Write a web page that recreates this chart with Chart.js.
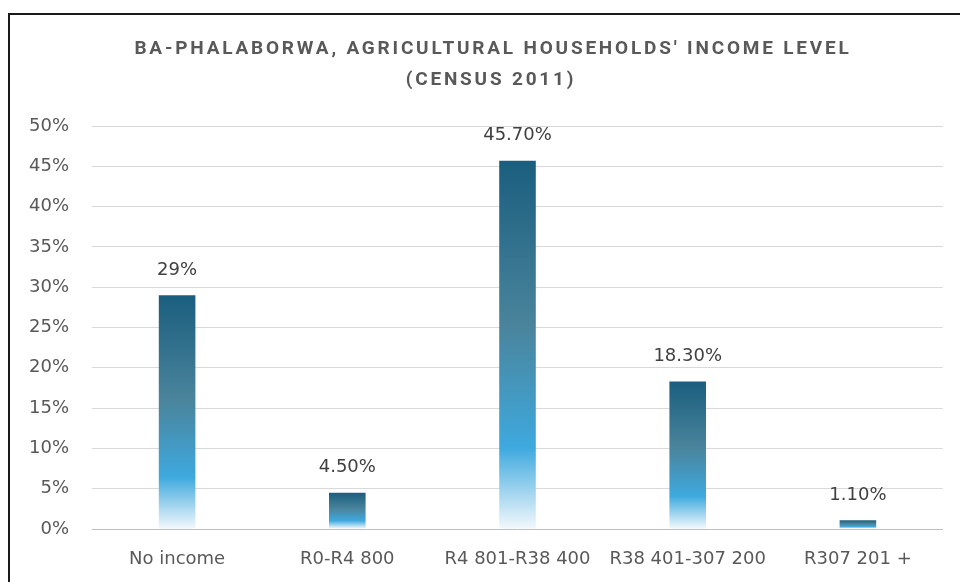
<!DOCTYPE html>
<html>
<head>
<meta charset="utf-8">
<script src="https://cdn.jsdelivr.net/npm/chart.js@4.4.1/dist/chart.umd.min.js"></script>
<style>
  html, body { margin: 0; padding: 0; background: #fff; overflow: hidden; }
  #frame { position: absolute; left: 8px; top: 13px; width: 980px; height: 620px; border: 2px solid #1a1a1a; }
  #incomeChart { position: absolute; left: 0; top: 0; }
</style>
</head>
<body>
<div id="frame"></div>
<canvas id="incomeChart" width="960" height="582"></canvas>
<script>
const categories = ['No income', 'R0-R4 800', 'R4 801-R38 400', 'R38 401-307 200', 'R307 201 +'];
const shares = [29, 4.5, 45.7, 18.3, 1.1];
const shareLabels = ['29%', '4.50%', '45.70%', '18.30%', '1.10%'];
const yTicks = [0, 5, 10, 15, 20, 25, 30, 35, 40, 45, 50];
const titleLines = ["BA-PHALABORWA, AGRICULTURAL HOUSEHOLDS' INCOME LEVEL", '(CENSUS 2011)'];

const textGrey = '#595959';
const bodyFont = 'DejaVu Sans';

// gradient runs over each bar, top to bottom
function barGradient(ctx, top, bottom) {
  const g = ctx.createLinearGradient(0, top, 0, bottom);
  g.addColorStop(0, '#1a5e7e');
  g.addColorStop(0.45, '#4a849c');
  g.addColorStop(0.78, '#3ea9de');
  g.addColorStop(1, '#f2f8fc');
  return g;
}

const gradientBars = {
  id: 'gradientBars',
  beforeDatasetsDraw(chart) {
    const meta = chart.getDatasetMeta(0);
    meta.data.forEach(bar => {
      if (isFinite(bar.y) && isFinite(bar.base) && bar.base > bar.y) {
        bar.options.backgroundColor = barGradient(chart.ctx, bar.y, bar.base);
      }
    });
  }
};

const titlePlugin = {
  id: 'spacedTitle',
  afterDraw(chart) {
    const ctx = chart.ctx;
    ctx.save();
    ctx.font = 'bold 19px Roboto';
    ctx.fillStyle = textGrey;
    ctx.textAlign = 'center';
    ctx.textBaseline = 'middle';
    ctx.letterSpacing = '2.8px';
    ctx.fillText(titleLines[0], 493, 49);
    ctx.fillText(titleLines[1], 491, 80);
    ctx.restore();
  }
};

const valueLabels = {
  id: 'valueLabels',
  afterDatasetsDraw(chart) {
    const ctx = chart.ctx;
    const meta = chart.getDatasetMeta(0);
    ctx.save();
    ctx.font = '18px "' + bodyFont + '"';
    ctx.fillStyle = '#404040';
    ctx.textAlign = 'center';
    ctx.textBaseline = 'middle';
    meta.data.forEach((bar, i) => {
      ctx.fillText(shareLabels[i], bar.x, bar.y - 25);
    });
    ctx.restore();
  }
};

new Chart(document.getElementById('incomeChart'), {
  type: 'bar',
  data: {
    labels: categories,
    datasets: [{
      data: shares,
      backgroundColor: (c) => '#1a5e7e',
      borderWidth: 0,
      categoryPercentage: 1,
      barPercentage: 0.215
    }]
  },
  options: {
    responsive: false,
    animation: false,
    layout: { padding: { left: 20, right: 17, top: 126, bottom: 1 } },
    plugins: {
      legend: { display: false },
      title: { display: false },
      tooltip: { enabled: false }
    },
    scales: {
      y: {
        min: 0,
        max: 50,
        afterFit(scale) { scale.width = 72; },
        afterBuildTicks(scale) { scale.ticks = yTicks.map(v => ({ value: v })); },
        border: { display: false },
        grid: {
          drawTicks: false,
          color: ctx => ctx.tick && ctx.tick.value === 0 ? '#bfbfbf' : '#d9d9d9',
          lineWidth: 1
        },
        ticks: {
          padding: 23,
          color: textGrey,
          font: { family: bodyFont, size: 18 },
          callback: v => v + '%'
        }
      },
      x: {
        afterFit(scale) { scale.height = 52; },
        border: { display: false },
        grid: { display: false, drawTicks: false },
        ticks: {
          padding: 20,
          color: textGrey,
          font: { family: bodyFont, size: 18 },
          maxRotation: 0
        }
      }
    }
  },
  plugins: [gradientBars, titlePlugin, valueLabels]
});
</script>
</body>
</html>
